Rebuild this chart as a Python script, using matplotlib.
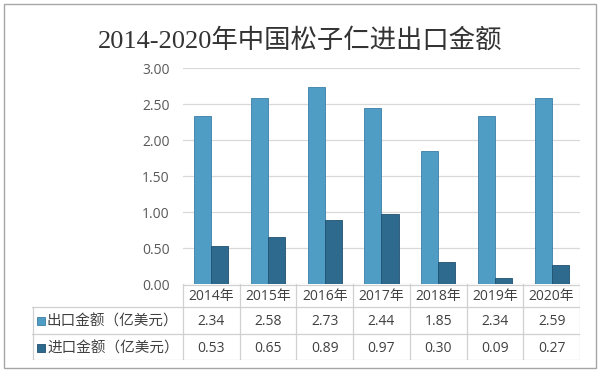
import matplotlib
matplotlib.use('Agg')
import matplotlib.pyplot as plt
from matplotlib.patches import Rectangle
import numpy as np

plt.rcParams['font.family'] = ['Noto Sans CJK SC', 'DejaVu Sans']

# data
years = ['2014年', '2015年', '2016年', '2017年', '2018年', '2019年', '2020年']
export_vals = [2.34, 2.58, 2.73, 2.44, 1.85, 2.34, 2.59]
import_vals = [0.53, 0.65, 0.89, 0.97, 0.30, 0.09, 0.27]
row_names = ['出口金额（亿美元）', '进口金额（亿美元）']
yticks = [0, 0.5, 1.0, 1.5, 2.0, 2.5, 3.0]

c_exp = '#4f9cc4'
c_imp = '#2d6a8e'
e_exp = '#3b7fa6'
e_imp = '#1f5070'
txt = '#404040'
grid = '#d9d9d9'

W, H = 600, 375
fig = plt.figure(figsize=(W / 100, H / 100), dpi=100)

# pixel layout
px_left, px_right = 183, 580
px_top, px_zero = 68, 284
tab_left, tab_bottom = 32, 360

ax = fig.add_axes([px_left / W, 1 - px_zero / H,
                   (px_right - px_left) / W, (px_zero - px_top) / H])
x = np.arange(len(years))
w = 0.3
ax.bar(x - w / 2, export_vals, w, color=c_exp, edgecolor=e_exp, linewidth=0.6, zorder=3)
ax.bar(x + w / 2, import_vals, w, color=c_imp, edgecolor=e_imp, linewidth=0.6, zorder=3)
ax.set_xlim(-0.5, len(years) - 0.5)
ax.set_ylim(0, 3)
ax.set_yticks(yticks)
ax.set_yticklabels(['%.2f' % v for v in yticks])
ax.tick_params(axis='y', length=0, pad=9.5, labelsize=10, labelcolor='#595959')
ax.set_xticks([])
for s in ax.spines.values():
    s.set_visible(False)
ax.yaxis.grid(True, color=grid, linewidth=0.9, zorder=0)
for lbl in ax.get_yticklabels():
    lbl.set_family(['Open Sans', 'DejaVu Sans'])

# data table below the plot
unit = (px_right - px_left) / len(years)
xl = -0.5 - (px_left - tab_left) / unit
tab = fig.add_axes([tab_left / W, 1 - tab_bottom / H,
                    (px_right - tab_left) / W, (tab_bottom - px_zero) / H])
tab.set_xlim(xl, len(years) - 0.5)
tab.set_ylim(tab_bottom - px_zero, 0)
tab.axis('off')
r1, r2, r3 = 23, 50, 76
lc = '#d0d0d0'
tab.plot([-0.5, len(years) - 0.5], [0.5, 0.5], color=lc, lw=0.9)
for yy in [r1, r2, r3 - 0.5]:
    tab.plot([xl, len(years) - 0.5], [yy, yy], color=lc, lw=0.9)
for i in range(len(years) + 1):
    tab.plot([i - 0.5, i - 0.5], [0, r3], color=lc, lw=0.9)
tab.plot([xl + 0.02, xl + 0.02], [r1, r3], color=lc, lw=0.9)

num_font = ['Open Sans', 'Noto Sans CJK SC']
for i, yr in enumerate(years):
    tab.text(i, r1 / 2 + 1, yr, ha='center', va='center', fontsize=10, color=txt, family=num_font)
    tab.text(i, (r1 + r2) / 2 + 1, '%.2f' % export_vals[i], ha='center', va='center',
             fontsize=10, color=txt, family=num_font)
    tab.text(i, (r2 + r3) / 2 + 1, '%.2f' % import_vals[i], ha='center', va='center',
             fontsize=10, color=txt, family=num_font)

for k, (name, col, ec) in enumerate([(row_names[0], c_exp, e_exp), (row_names[1], c_imp, e_imp)]):
    yc = (r1 + r2) / 2 if k == 0 else (r2 + r3) / 2
    sq = 8 / unit
    tab.add_patch(Rectangle((xl + 5 / unit, yc - 3.5), sq, 8, facecolor=col, edgecolor=ec, lw=0.6))
    tab.text(xl + 15 / unit, yc + 1, name, ha='left', va='center', fontsize=10.5, color=txt)

# title and outer frame
fig.text(0.5, 1 - 40 / H, '2014-2020年中国松子仁进出口金额', ha='center', va='center',
         fontsize=19, color='#333333', family=['Liberation Serif', 'Noto Sans CJK SC'])
fig.add_artist(Rectangle((4 / W, 1 - 368 / H), 592 / W, 364 / H, transform=fig.transFigure,
                         fill=False, edgecolor='#a6a6a6', linewidth=1))

fig.savefig('out.png', dpi=100, facecolor='white')
